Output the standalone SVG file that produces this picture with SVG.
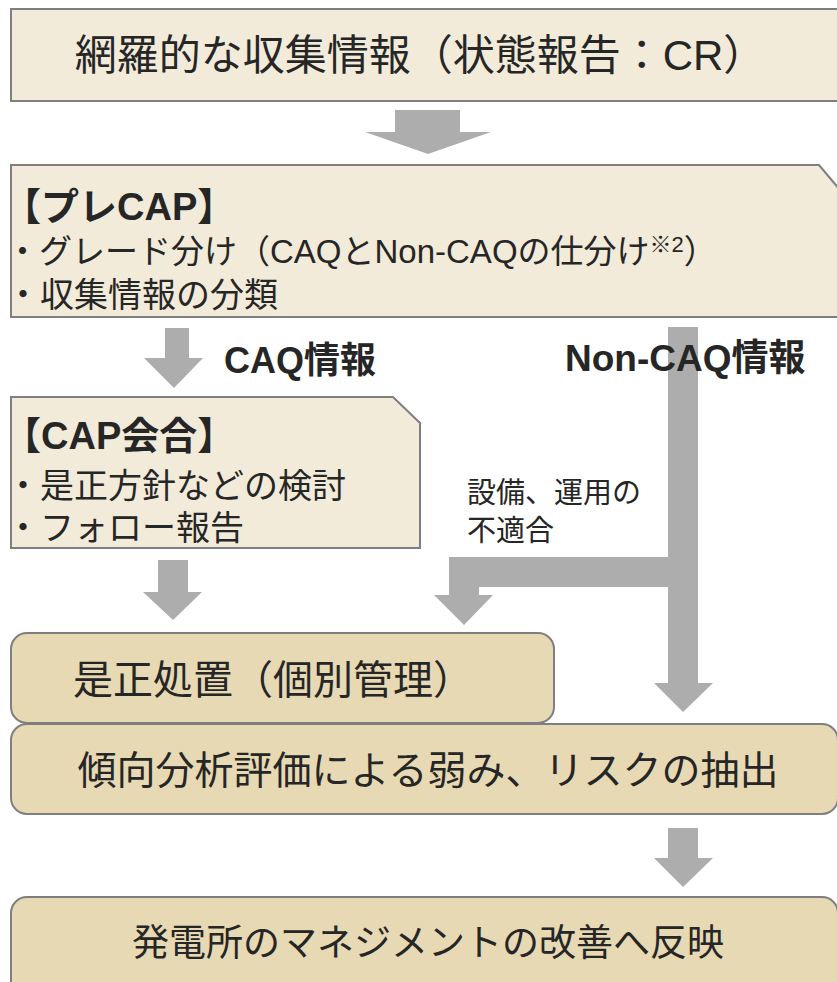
<svg xmlns="http://www.w3.org/2000/svg" width="837" height="982" viewBox="0 0 837 982">
<style>
.lt{fill:#F2EBDA;stroke:#7F7F7F;stroke-width:2}
.tn{fill:#E6D9B3;stroke:#7F7F7F;stroke-width:2}
.ar{fill:#ADADAD}
text{font-family:"Liberation Sans","Noto Sans CJK JP",sans-serif;fill:#262626}
.b{font-weight:bold}
</style>
<rect width="837" height="982" fill="#FFFFFF"/>
<g id="connectors">
<polygon class="ar" points="395,110 460,110 460,132 491,132 428,154 365,132 395,132"/>
<polygon class="ar" points="165,328 189,328 189,358 203,358 174,388 144,358 165,358"/>
<polygon class="ar" points="668,327 698,327 698,683 713,683 683,712 654,683 668,683"/>
<polygon class="ar" points="668,557 668,587 479,587 479,595 493,595 464,625 434,595 449,595 449,557"/>
<polygon class="ar" points="158,560 188,560 188,592 202,592 173,620 143,592 158,592"/>
<polygon class="ar" points="668,828 698,828 698,858 713,858 683,887 654,858 668,858"/>
</g>
<g id="n1">
<rect class="lt" x="11" y="9" width="840" height="92"/>
<text x="420" y="70" font-size="42" text-anchor="middle">網羅的な収集情報（状態報告：CR）</text>
</g>
<g id="n2">
<polygon class="lt" points="11,165 819,165 840,190 840,317 11,317"/>
<text class="b" x="3" y="220" font-size="38">【プレCAP】</text>
<text x="6" y="263" font-size="33">・グレード分け（CAQとNon-CAQの仕分け<tspan font-size="22" dy="-11">※2</tspan><tspan dy="11">）</tspan></text>
<text x="6" y="307" font-size="34">・収集情報の分類</text>
</g>
<g id="lbl-caq"><text class="b" x="224" y="373" font-size="36">CAQ情報</text></g>
<g id="lbl-noncaq"><text class="b" x="565" y="371" font-size="37">Non-CAQ情報</text></g>
<g id="n3">
<polygon class="lt" points="11,397 393,397 420,423 420,548 11,548"/>
<text class="b" x="3" y="449" font-size="38">【CAP会合】</text>
<text x="6" y="498" font-size="34">・是正方針などの検討</text>
<text x="6" y="540" font-size="34">・フォロー報告</text>
</g>
<g id="lbl-nc"><text x="467" y="503" font-size="29">設備、運用の</text><text x="467" y="541" font-size="29">不適合</text></g>
<g id="n4">
<rect class="tn" x="11" y="633" width="543" height="90" rx="16"/>
<text x="73" y="694" font-size="40">是正処置（個別管理）</text>
</g>
<g id="n5">
<rect class="tn" x="11" y="724" width="827" height="90" rx="16"/>
<text x="428" y="784" font-size="39" text-anchor="middle">傾向分析評価による弱み、リスクの抽出</text>
</g>
<g id="n6">
<rect class="tn" x="11" y="897" width="827" height="100" rx="16"/>
<text x="428" y="956" font-size="37" text-anchor="middle">発電所のマネジメントの改善へ反映</text>
</g>
</svg>
